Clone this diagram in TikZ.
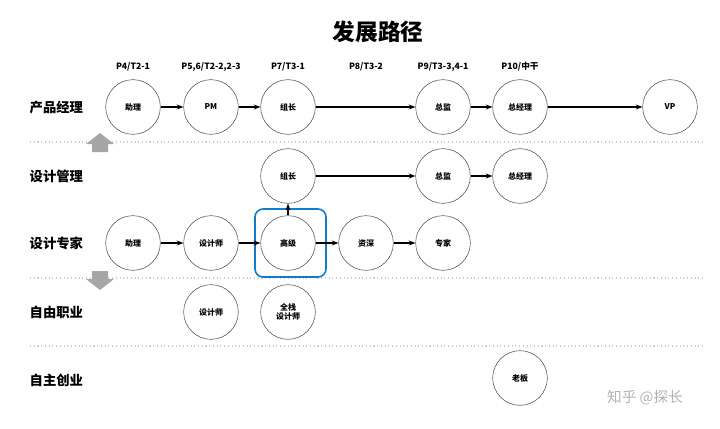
\documentclass[tikz,border=0pt]{standalone}
\usepackage{fontspec}
\setmainfont{Noto Sans CJK SC}
\usetikzlibrary{arrows.meta}
\tikzset{
  stage/.style={draw=black!70, circle, minimum size=41pt, inner sep=0pt, font=\fontsize{6}{7}\selectfont\bfseries},
  step arrow/.style={-{Stealth[length=5pt]}, line width=0.8pt},
  lane/.style={font=\fontsize{10}{12}\selectfont\bfseries, anchor=west},
  level/.style={font=\fontsize{6.5}{8}\selectfont\bfseries},
  divider/.style={gray!40, dotted, line width=0.8pt},
  big arrow/.style={gray!70, fill=gray!70}
}
\begin{document}
\begin{tikzpicture}[x=0.75pt, y=-0.75pt]
  \useasboundingbox (0,0) rectangle (720,428);
  \node[font=\fontsize{17}{20}\selectfont\bfseries] (title) at (378,32) {发展路径};
  % column headers
  \foreach \x/\t in {133/{P4/T2-1}, 211/{P5,6/T2-2,2-3}, 288/{P7/T3-1}, 366/{P8/T3-2}, 443/{P9/T3-3,4-1}, 520/{P10/中干}}
    \node[level] at (\x,67) {\t};
  % lanes
  \node[lane] (l1) at (25,107) {产品经理};
  \node[lane] (l2) at (25,176) {设计管理};
  \node[lane] (l3) at (25,243) {设计专家};
  \node[lane] (l4) at (25,312) {自由职业};
  \node[lane] (l5) at (25,380) {自主创业};
  \draw[divider] (30,142) -- (705,142);
  \draw[divider] (30,278) -- (705,278);
  \draw[divider] (30,346) -- (705,346);
  \fill[big arrow] (92,152) -- (92,144) -- (86,144) -- (100,133) -- (114,144) -- (108,144) -- (108,152) -- cycle;
  \fill[big arrow] (92,271) -- (92,279) -- (86,279) -- (100,290) -- (114,279) -- (108,279) -- (108,271) -- cycle;
  % row 1
  \node[stage] (a1) at (133,107) {助理};
  \node[stage] (a2) at (211,107) {PM};
  \node[stage] (a3) at (288,107) {组长};
  \node[stage] (a4) at (443,107) {总监};
  \node[stage] (a5) at (520,107) {总经理};
  \node[stage] (a6) at (670,107) {VP};
  % row 2
  \node[stage] (b1) at (288,176) {组长};
  \node[stage] (b2) at (443,176) {总监};
  \node[stage] (b3) at (520,176) {总经理};
  % row 3
  \node[stage] (c1) at (133,243) {助理};
  \node[stage] (c2) at (211,243) {设计师};
  \node[stage] (c3) at (288,243) {高级};
  \node[stage] (c4) at (366,243) {资深};
  \node[stage] (c5) at (443,243) {专家};
  \draw[cyan!60!blue, line width=1.2pt, rounded corners=6pt] (255,209) rectangle (326,277);
  % rows 4, 5
  \node[stage] (d1) at (211,312) {设计师};
  \node[stage, align=center] (d2) at (288,312) {全栈\\设计师};
  \node[stage] (e1) at (520,378) {老板};
  \foreach \s/\t in {a1/a2, a2/a3, a3/a4, a4/a5, a5/a6, b1/b2, b2/b3, c1/c2, c2/c3, c3/c4, c4/c5, c3/b1}
    \draw[step arrow] (\s) -- (\t);
  \node[gray!60, font=\fontsize{11}{13}\selectfont] (mark) at (645,398) {知乎 @探长};
\end{tikzpicture}
\end{document}
